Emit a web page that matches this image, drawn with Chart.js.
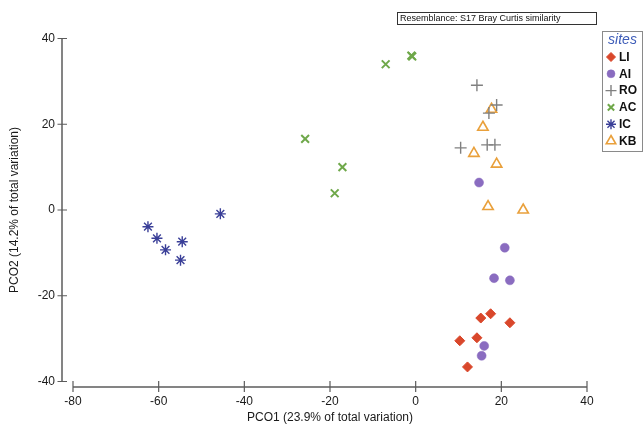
<!DOCTYPE html>
<html><head><meta charset="utf-8">
<script src="https://cdn.jsdelivr.net/npm/chart.js@4.4.1/dist/chart.umd.min.js"></script>
<style>html,body{margin:0;padding:0;background:#fff;}canvas{display:block;}</style>
</head><body>
<canvas id="c" width="644" height="426"></canvas>
<script>
// ---- data ----
const xTicks = [-80, -60, -40, -20, 0, 20, 40];
const yTicks = [-40, -20, 0, 20, 40];
const siteNames = ['LI', 'AI', 'RO', 'AC', 'IC', 'KB'];
const xTitle = 'PCO1 (23.9% of total variation)';
const yTitle = 'PCO2 (14.2% of total variation)';
const resemblance = 'Resemblance: S17 Bray Curtis similarity';
const legendTitle = 'sites';

const LI_x = [15.2, 17.5, 22.0, 10.3, 14.3, 12.1];
const LI_y = [-25.2, -24.2, -26.3, -30.5, -29.8, -36.6];
const AI_x = [14.8, 20.8, 18.3, 22.0, 16.0, 15.4];
const AI_y = [6.4, -8.8, -15.9, -16.4, -31.7, -34.0];
const RO_x = [14.3, 18.9, 17.1, 10.5, 16.7, 18.5];
const RO_y = [29.1, 24.5, 22.6, 14.5, 15.2, 15.2];
const AC_x = [-7.0, -1.0, -0.8, -25.8, -17.1, -18.9];
const AC_y = [34.0, 36.0, 35.8, 16.6, 10.0, 3.9];
const IC_x = [-62.5, -60.4, -58.4, -54.5, -54.9, -45.6];
const IC_y = [-3.9, -6.6, -9.3, -7.4, -11.7, -0.9];
const KB_x = [17.7, 15.7, 13.6, 18.9, 16.9, 25.1];
const KB_y = [23.5, 19.3, 13.2, 10.7, 0.8, 0.0];

// ---- styles ----
const FONT = "'Liberation Sans', Arial, Helvetica, sans-serif";
const styles = {
  LI: {pointStyle: 'rectRot', radius: 5, backgroundColor: '#d9472b', borderColor: '#d9472b', borderWidth: 1},
  AI: {pointStyle: 'circle', radius: 4.5, backgroundColor: '#8a6cc0', borderColor: '#8a6cc0', borderWidth: 0.5},
  RO: {pointStyle: 'cross', radius: 6, backgroundColor: '#808080', borderColor: '#808080', borderWidth: 1.4},
  AC: {pointStyle: 'crossRot', radius: 5.5, backgroundColor: '#6fa84a', borderColor: '#6fa84a', borderWidth: 2},
  IC: {pointStyle: 'star', radius: 5.5, backgroundColor: '#3a3f98', borderColor: '#3a3f98', borderWidth: 1.4},
  KB: {pointStyle: 'triangle', radius: 6, backgroundColor: 'rgba(255,255,255,0)', borderColor: '#e9a03b', borderWidth: 1.6}
};
const seriesX = {LI: LI_x, AI: AI_x, RO: RO_x, AC: AC_x, IC: IC_x, KB: KB_x};
const seriesY = {LI: LI_y, AI: AI_y, RO: RO_y, AC: AC_y, IC: IC_y, KB: KB_y};

const datasets = siteNames.map(n => {
  const s = styles[n];
  return {
    label: n,
    data: seriesX[n].map((v, i) => ({x: v, y: seriesY[n][i]})),
    pointStyle: s.pointStyle,
    pointRadius: s.radius,
    pointHoverRadius: s.radius,
    pointBackgroundColor: s.backgroundColor,
    pointBorderColor: s.borderColor,
    pointBorderWidth: s.borderWidth,
    showLine: false,
    clip: false
  };
});

function drawMarker(ctx, st, x, y, r) {
  const opts = {pointStyle: st.pointStyle, radius: r, rotation: 0, borderWidth: st.borderWidth};
  ctx.save();
  ctx.fillStyle = st.backgroundColor;
  ctx.strokeStyle = st.borderColor;
  ctx.lineWidth = st.borderWidth;
  if (Chart.helpers && Chart.helpers.drawPoint) {
    Chart.helpers.drawPoint(ctx, opts, x, y);
  }
  ctx.restore();
}

const decor = {
  id: 'decor',
  beforeDatasetsDraw(chart) {
    const {ctx, chartArea, scales: {x, y}} = chart;
    const ax = chartArea.left - 11;
    const ay = chartArea.bottom + 5.5;
    ctx.save();
    ctx.strokeStyle = '#5c5c5c';
    ctx.lineWidth = 1.5;
    ctx.beginPath();
    ctx.moveTo(ax, y.getPixelForValue(yTicks[yTicks.length - 1]));
    ctx.lineTo(ax, y.getPixelForValue(yTicks[0]));
    ctx.moveTo(x.getPixelForValue(xTicks[0]), ay);
    ctx.lineTo(x.getPixelForValue(xTicks[xTicks.length - 1]), ay);
    ctx.stroke();
    ctx.lineWidth = 1.2;
    ctx.beginPath();
    yTicks.forEach(v => {
      const py = y.getPixelForValue(v);
      ctx.moveTo(ax - 4.5, py); ctx.lineTo(ax + 5, py);
    });
    xTicks.forEach(v => {
      const px = x.getPixelForValue(v);
      ctx.moveTo(px, ay - 6); ctx.lineTo(px, ay + 5);
    });
    ctx.stroke();
    ctx.restore();
  },
  afterDraw(chart) {
    const {ctx} = chart;
    ctx.save();
    // resemblance box
    ctx.fillStyle = '#fff';
    ctx.strokeStyle = '#333';
    ctx.lineWidth = 1;
    ctx.strokeRect(397.5, 12.5, 199, 12);
    ctx.fillStyle = '#111';
    ctx.font = '9px ' + FONT;
    ctx.textBaseline = 'middle';
    ctx.textAlign = 'left';
    ctx.fillText(resemblance, 400, 19);
    // legend
    ctx.strokeStyle = '#8a8a8a';
    ctx.lineWidth = 1;
    ctx.strokeRect(602.5, 31.5, 40, 120);
    ctx.font = 'italic 14px ' + FONT;
    ctx.fillStyle = '#3d5cb8';
    ctx.textAlign = 'center';
    ctx.fillText(legendTitle, 622.5, 40);
    ctx.font = 'bold 12px ' + FONT;
    ctx.textAlign = 'left';
    chart.data.datasets.forEach((ds, i) => {
      const yy = 57 + i * 16.8;
      const st = styles[ds.label];
      const r = {LI: 4.5, AI: 4, RO: 5.5, AC: 4.5, IC: 5, KB: 5.5}[ds.label];
      drawMarker(ctx, st, 611, yy, r);
      ctx.fillStyle = '#111';
      ctx.fillText(ds.label, 619, yy + 0.5);
    });
    ctx.restore();
  }
};

new Chart(document.getElementById('c'), {
  type: 'scatter',
  data: {datasets},
  options: {
    responsive: false,
    animation: false,
    devicePixelRatio: 1,
    layout: {padding: {left: 0, right: 57, top: 38.5, bottom: 0}},
    plugins: {legend: {display: false}, tooltip: {enabled: false}, title: {display: false}},
    scales: {
      x: {
        type: 'linear', min: -80, max: 40,
        afterBuildTicks: s => { s.ticks = xTicks.map(v => ({value: v})); },
        afterFit: s => { s.height = 44.5; },
        grid: {display: false, drawTicks: false},
        border: {display: false},
        ticks: {color: '#1a1a1a', font: {family: FONT, size: 12}, padding: 13, maxRotation: 0},
        title: {display: true, text: xTitle, color: '#1a1a1a', font: {family: FONT, size: 12}, padding: {top: 0, bottom: 1}}
      },
      y: {
        type: 'linear', min: -40, max: 40,
        afterBuildTicks: s => { s.ticks = yTicks.map(v => ({value: v})); },
        afterFit: s => { s.width = 73; },
        grid: {display: false, drawTicks: false},
        border: {display: false},
        ticks: {color: '#1a1a1a', font: {family: FONT, size: 12}, padding: 18},
        title: {display: true, text: yTitle, color: '#1a1a1a', font: {family: FONT, size: 12}, padding: {top: 7, bottom: 0}}
      }
    }
  },
  plugins: [decor]
});
</script>
</body></html>
